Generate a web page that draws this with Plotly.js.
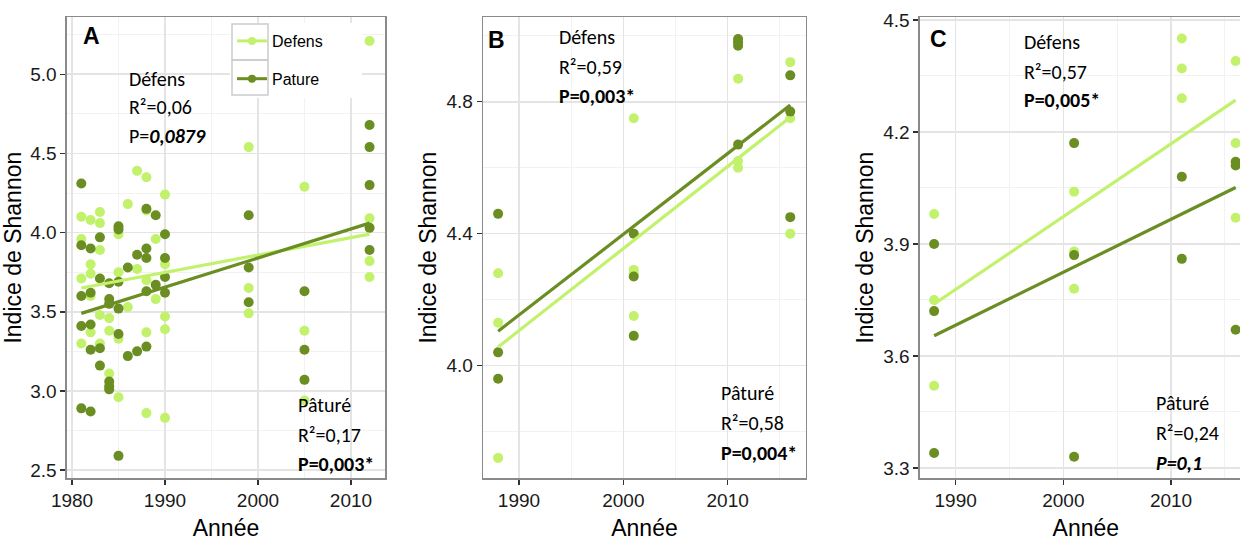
<!DOCTYPE html>
<html>
<head>
<meta charset="utf-8">
<script src="https://cdn.plot.ly/plotly-3.0.1.min.js"></script>
<style>
html,body{margin:0;padding:0;background:#fff;overflow:hidden;width:1240px;height:542px;}
#chart{width:1260px;height:542px;}
</style>
</head>
<body>
<div id="chart"></div>
<script>
// ---------------- DATA ----------------
// Panel A
const yearsA_def = [1981,1981,1981,1981, 1982,1982,1982,1982,1982, 1983,1983,1983,1983,1983, 1984,1984,1984, 1985,1985,1985,1985, 1986,1986, 1987,1987, 1988,1988,1988,1988,1988, 1989,1989, 1990,1990,1990,1990,1990, 1999,1999,1999, 2005,2005,2005, 2012,2012,2012,2012];
const valsA_def  = [4.10,3.96,3.71,3.30, 4.08,3.80,3.74,3.60,3.37, 4.13,4.06,3.89,3.48,3.30, 3.46,3.38,3.11, 3.99,3.75,3.33,2.96, 4.18,3.53, 4.39,3.77, 4.35,4.14,3.70,3.37,2.86, 3.96,3.58, 4.24,3.80,3.47,3.39,2.83, 4.54,3.65,3.49, 4.29,3.38,2.94, 5.21,4.09,3.82,3.72];
const yearsA_pat = [1981,1981,1981,1981,1981, 1982,1982,1982,1982,1982, 1983,1983,1983,1983, 1984,1984,1984,1984,1984,1984, 1985,1985,1985,1985,1985,1985, 1986,1986, 1987,1987, 1988,1988,1988,1988,1988, 1989,1989, 1990,1990,1990,1990, 1999,1999,1999, 2005,2005,2005, 2012,2012,2012,2012,2012];
const valsA_pat  = [4.31,3.92,3.60,3.41,2.89, 3.90,3.62,3.42,3.26,2.87, 3.97,3.71,3.27,3.16, 3.68,3.58,3.55,3.06,3.03,3.01, 4.04,4.02,3.69,3.52,3.36,2.59, 3.78,3.22, 3.86,3.25, 4.15,3.90,3.84,3.63,3.28, 4.11,3.67, 3.99,3.84,3.72,3.62, 4.11,3.78,3.56, 3.63,3.26,3.07, 4.68,4.54,4.30,4.03,3.89];
const fitYearsA = [1981, 2012];
const fitA_def = [3.65, 3.99];
const fitA_pat = [3.49, 4.06];

// Panel B
const yearsB_def = [1988,1988,1988, 2001,2001,2001,2001, 2011,2011,2011, 2016,2016,2016];
const valsB_def  = [4.28,4.13,3.72, 4.75,4.29,4.28,4.15, 4.87,4.62,4.60, 4.92,4.75,4.40];
const yearsB_pat = [1988,1988,1988, 2001,2001,2001, 2011,2011,2011,2011, 2016,2016,2016];
const valsB_pat  = [4.46,4.04,3.96, 4.40,4.27,4.09, 4.99,4.98,4.97,4.67, 4.88,4.77,4.45];
const fitYearsB = [1988, 2016];
const fitB_def = [4.056, 4.753];
const fitB_pat = [4.104, 4.790];

// Panel C
const yearsC_def = [1988,1988,1988, 2001,2001,2001, 2011,2011,2011, 2016,2016,2016];
const valsC_def  = [3.98,3.75,3.52, 4.04,3.88,3.78, 4.45,4.37,4.29, 4.39,4.17,3.97];
const yearsC_pat = [1988,1988,1988, 2001,2001,2001, 2011,2011, 2016,2016,2016];
const valsC_pat  = [3.90,3.72,3.34, 4.17,3.87,3.33, 4.08,3.86, 4.12,4.11,3.67];
const fitYearsC = [1988, 2016];
const fitC_def = [3.739, 4.285];
const fitC_pat = [3.654, 4.051];

const seriesNames = ['Defens', 'Pature'];
const panelLabels = ['A', 'B', 'C'];
const xTicksA = [1980, 1990, 2000, 2010];
const xTicksBC = [1990, 2000, 2010];

// ---------------- STYLE ----------------
const W = 1260, H = 542;
const LIGHT = '#c2f16c', DARK = '#6b8e23';
const px = x => x / W;
const py = y => 1 - y / H;
const tickFont = {family: 'Liberation Sans, Arial, sans-serif', size: 19, color: '#1a1a1a'};
const titleFont = {family: 'Liberation Sans, Arial, sans-serif', size: 23, color: '#000'};
const noteFont = {family: 'Carlito, Lato, sans-serif', size: 20, color: '#000'};

function scat(x, y, color, xa, ya) {
  return {x: x, y: y, type: 'scatter', mode: 'markers', xaxis: xa, yaxis: ya, showlegend: false,
    marker: {color: color, size: 10}, hoverinfo: 'x+y'};
}
function fit(x, y, color, xa, ya) {
  return {x: x, y: y, type: 'scatter', mode: 'lines', xaxis: xa, yaxis: ya, showlegend: false,
    line: {color: color, width: 3.2}, hoverinfo: 'skip'};
}

const traces = [
  scat(yearsA_def, valsA_def, LIGHT, 'x', 'y'),
  scat(yearsA_pat, valsA_pat, DARK, 'x', 'y'),
  fit(fitYearsA, fitA_def, LIGHT, 'x', 'y'),
  fit(fitYearsA, fitA_pat, DARK, 'x', 'y'),
  scat(yearsB_def, valsB_def, LIGHT, 'x2', 'y2'),
  scat(yearsB_pat, valsB_pat, DARK, 'x2', 'y2'),
  fit(fitYearsB, fitB_def, LIGHT, 'x2', 'y2'),
  fit(fitYearsB, fitB_pat, DARK, 'x2', 'y2'),
  scat(yearsC_def, valsC_def, LIGHT, 'x3', 'y3'),
  scat(yearsC_pat, valsC_pat, DARK, 'x3', 'y3'),
  fit(fitYearsC, fitC_def, LIGHT, 'x3', 'y3'),
  fit(fitYearsC, fitC_pat, DARK, 'x3', 'y3'),
  // legend entries
  {x: [null], y: [null], type: 'scatter', mode: 'lines+markers', name: seriesNames[0], legendgroup: 'g1',
   xaxis: 'x', yaxis: 'y', line: {color: LIGHT, width: 3}, marker: {color: LIGHT, size: 8}},
  {x: [null], y: [null], type: 'scatter', mode: 'lines+markers', name: seriesNames[1], legendgroup: 'g2',
   xaxis: 'x', yaxis: 'y', line: {color: DARK, width: 3}, marker: {color: DARK, size: 8}}
];

function xax(domain, range, ticks, anchor) {
  return {domain: domain, range: range, anchor: anchor, tickmode: 'array', tickvals: ticks,
    ticks: 'outside', ticklen: 5, tickwidth: 1.5, tickcolor: '#333', tickfont: tickFont,
    showline: true, mirror: true, linecolor: '#8a8a8a', linewidth: 1.6,
    showgrid: true, gridcolor: '#e4e4e4', gridwidth: 1.6, zeroline: false,
    minor: {dtick: 10, tick0: 1985, showgrid: true, gridcolor: '#f2f2f2', gridwidth: 1, ticks: ''},
    title: {text: 'Année', font: titleFont, standoff: 9}};
}
function yax(domain, range, dtick, tick0, anchor) {
  return {domain: domain, range: range, anchor: anchor, tickmode: 'linear', dtick: dtick, tick0: tick0,
    tickformat: '.1f', ticks: 'outside', ticklen: 5, tickwidth: 1.5, tickcolor: '#333', tickfont: tickFont,
    showline: true, mirror: true, linecolor: '#8a8a8a', linewidth: 1.6,
    showgrid: true, gridcolor: '#e4e4e4', gridwidth: 1.6, zeroline: false,
    minor: {dtick: dtick, tick0: tick0 + dtick / 2, showgrid: true, gridcolor: '#f2f2f2', gridwidth: 1, ticks: ''},
    title: {text: 'Indice de Shannon', font: titleFont, standoff: 3}};
}

const yDom = [py(478), py(17.3)];

function note(text, x, y) {
  return {text: text, xref: 'paper', yref: 'paper', x: px(x), y: py(y), xanchor: 'left', yanchor: 'middle',
    showarrow: false, font: noteFont};
}
function plabel(text, x, y) {
  return {text: '<b>' + text + '</b>', xref: 'paper', yref: 'paper', x: px(x), y: py(y), xanchor: 'left', yanchor: 'middle',
    showarrow: false, font: {family: 'Liberation Sans, Arial, sans-serif', size: 23, color: '#000'}};
}

const annotations = [
  plabel(panelLabels[0], 81, 36),
  plabel(panelLabels[1], 486, 40),
  plabel(panelLabels[2], 928, 39),
  note('Défens', 127, 79), note('R²=0,06', 127, 107), note('P=<b><i>0,0879</i></b>', 127, 136),
  note('Pâturé', 296, 405), note('R²=0,17', 296, 435), note('<b>P=0,003*</b>', 296, 464),
  note('Défens', 557, 36.5), note('R²=0,59', 557, 66.5), note('<b>P=0,003*</b>', 557, 96),
  note('Pâturé', 719, 393), note('R²=0,58', 719, 423), note('<b>P=0,004*</b>', 719, 453),
  note('Défens', 1022, 41.5), note('R²=0,57', 1022, 71.5), note('<b>P=0,005*</b>', 1022, 100.5),
  note('Pâturé', 1154, 403), note('R²=0,24', 1154, 433), note('<b><i>P=0,1</i></b>', 1154, 463)
];

const shapes = [
  {type: 'rect', xref: 'paper', yref: 'paper', x0: px(230), x1: px(362), y0: py(98), y1: py(23),
   fillcolor: '#ffffff', line: {width: 0}, layer: 'above'},
  {type: 'rect', xref: 'paper', yref: 'paper', x0: px(232), x1: px(268), y0: py(60), y1: py(24),
   fillcolor: 'rgba(0,0,0,0)', line: {color: '#cccccc', width: 1.5}, layer: 'above'},
  {type: 'rect', xref: 'paper', yref: 'paper', x0: px(232), x1: px(268), y0: py(95), y1: py(60),
   fillcolor: 'rgba(0,0,0,0)', line: {color: '#cccccc', width: 1.5}, layer: 'above'}
];

const layout = {
  width: W, height: H, margin: {l: 0, r: 0, t: 0, b: 0}, paper_bgcolor: '#fff', plot_bgcolor: '#fff',
  showlegend: true,
  legend: {x: px(232), y: py(24), xanchor: 'left', yanchor: 'top', bgcolor: 'rgba(0,0,0,0)', borderwidth: 0,
    font: {family: 'Liberation Sans, Arial, sans-serif', size: 16, color: '#000'}, itemwidth: 30,
    tracegroupgap: 14, itemclick: false, itemdoubleclick: false},
  xaxis: xax([px(67), px(385)], [1979.46, 2013.66], xTicksA, 'y'),
  yaxis: yax(yDom, [2.45, 5.36], 0.5, 2.5, 'x'),
  xaxis2: xax([px(483.3), px(805.7)], [1986.58, 2017.48], xTicksBC, 'y2'),
  yaxis2: yax(yDom, [3.659, 5.056], 0.4, 4.0, 'x2'),
  xaxis3: xax([px(920), px(1251.7)], [1986.69, 2017.49], xTicksBC, 'y3'),
  yaxis3: yax(yDom, [3.273, 4.507], 0.3, 3.3, 'x3'),
  annotations: annotations,
  shapes: shapes
};

Plotly.newPlot('chart', traces, layout, {staticPlot: true, displayModeBar: false});
</script>
</body>
</html>
